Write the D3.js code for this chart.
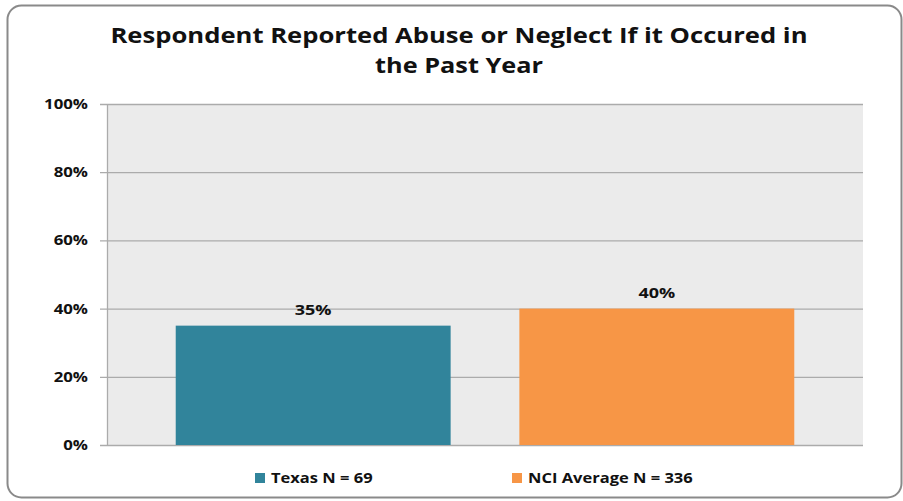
<!DOCTYPE html>
<html><head><meta charset="utf-8">
<script src="https://cdn.jsdelivr.net/npm/d3@7"></script>
<style>body{margin:0;background:#fff}svg{display:block}text{font-family:"Open Sans",sans-serif;font-weight:bold;fill:#111}</style>
</head><body>
<script>
const series = ["Texas N = 69", "NCI Average N = 336"];
const values = [35, 40];
const colors = ["#31849b", "#f79646"];
const yTicks = [0, 20, 40, 60, 80, 100];
const titleLines = ["Respondent Reported Abuse or Neglect If it Occured in", "the Past Year"];

const W = 903, H = 501;
const svg = d3.select("body").append("svg").attr("width", W).attr("height", H);
const stretch = f => sel => sel.each(function () {
  const w = this.getComputedTextLength();
  d3.select(this).attr("textLength", w * f).attr("lengthAdjust", "spacingAndGlyphs");
});

svg.append("rect").attr("x", 7.5).attr("y", 5.5).attr("width", 894).attr("height", 492)
  .attr("rx", 14).attr("fill", "#fff").attr("stroke", "#8a8a8a").attr("stroke-width", 2);

const m = {l: 107, r: 863, t: 104, b: 445};
const x = d3.scaleBand().domain(series).range([m.l, m.r]).paddingInner(0.2).paddingOuter(0.2);
const y = d3.scaleLinear().domain([0, 100]).range([m.b, m.t]);

svg.append("rect").attr("x", m.l).attr("y", m.t).attr("width", m.r - m.l).attr("height", m.b - m.t).attr("fill", "#ebebeb");

svg.append("g").selectAll("line").data(yTicks).join("line")
  .attr("x1", m.l - 7).attr("x2", m.r).attr("y1", d => y(d) + 0.5).attr("y2", d => y(d) + 0.5)
  .attr("stroke", "#ababab").attr("stroke-width", 1.3);
svg.append("line").attr("x1", m.l + 0.5).attr("x2", m.l + 0.5).attr("y1", m.t).attr("y2", m.b)
  .attr("stroke", "#ababab").attr("stroke-width", 1.3);

svg.append("g").selectAll("text").data(yTicks).join("text")
  .attr("x", 88).attr("y", d => y(d) + 5).attr("text-anchor", "end").attr("font-size", 14)
  .text(d => d + "%").call(stretch(1.2));

svg.append("g").selectAll("rect").data(values).join("rect")
  .attr("x", (d, i) => x(series[i])).attr("width", x.bandwidth())
  .attr("y", d => y(d)).attr("height", d => y(0) - y(d)).attr("fill", (d, i) => colors[i]);

svg.append("g").selectAll("text").data(values).join("text")
  .attr("x", (d, i) => x(series[i]) + x.bandwidth() / 2).attr("y", d => y(d) - 11)
  .attr("text-anchor", "middle").attr("font-size", 15).text(d => d + "%").call(stretch(1.2));

svg.append("text").attr("x", 459).attr("y", 43).attr("text-anchor", "middle").attr("font-size", 22)
  .text(titleLines[0]).call(stretch(1.165));
svg.append("text").attr("x", 459).attr("y", 73).attr("text-anchor", "middle").attr("font-size", 22)
  .text(titleLines[1]).call(stretch(1.15));

const legX = [255, 512];
const leg = svg.append("g").selectAll("g").data(series).join("g")
  .attr("transform", (d, i) => `translate(${legX[i]},0)`);
leg.append("rect").attr("x", 0).attr("y", 473).attr("width", 10).attr("height", 10).attr("fill", (d, i) => colors[i]);
leg.append("text").attr("x", 16).attr("y", 483).attr("font-size", 15).text(d => d).call(stretch(1.1));
</script>
</body></html>
